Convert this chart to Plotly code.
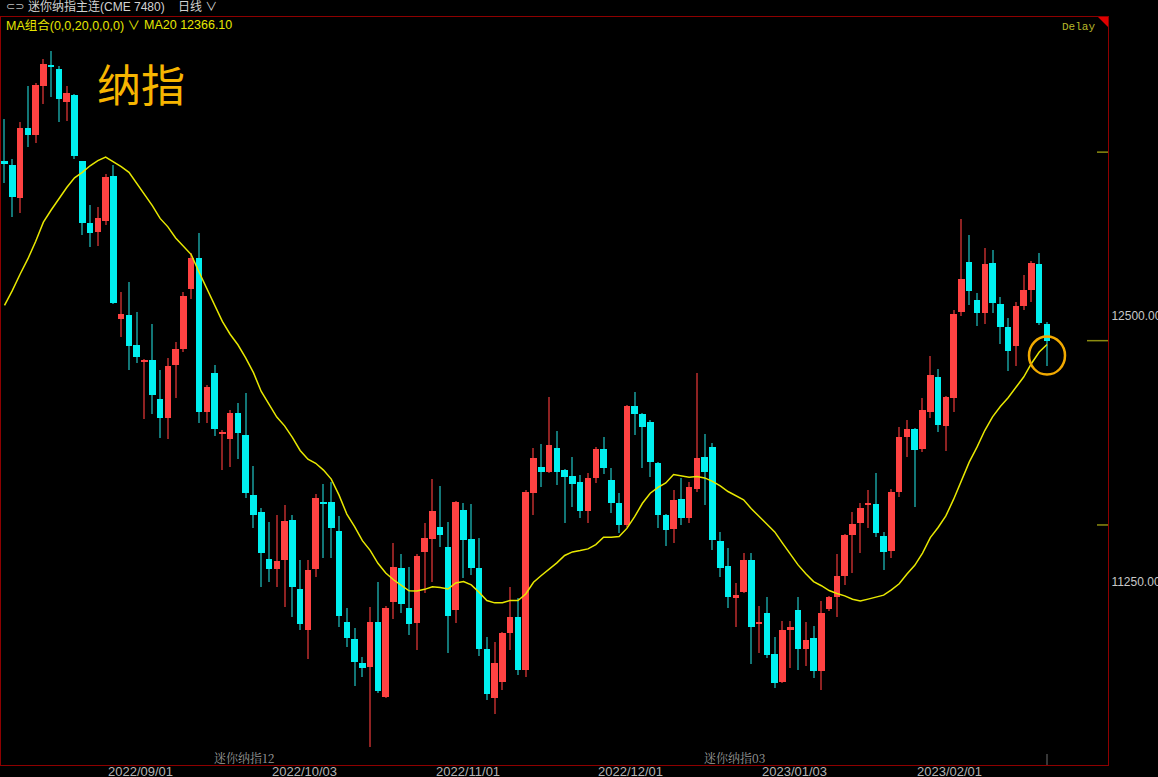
import plotly.graph_objects as go

# ---------------- data ----------------
opens = [13230, 13210, 13053, 13385, 13350, 13579, 13679, 13660, 13507, 13538,
         13230, 12937, 12894, 12947, 13159, 12484, 12505, 12366, 12285, 12295,
         12109, 12020, 12269, 12344, 12625, 12772, 12048, 12232, 11949, 11922,
         12044, 11942, 11657, 11581, 11358, 11311, 11353, 11541, 11215, 11024,
         11309, 11626, 11626, 11491, 11060, 10982, 10868, 10852, 11060, 10711,
         11157, 11317, 11129, 11056, 11389, 11450, 11510, 11416, 11118, 11589,
         11452, 11317, 10933, 10706, 10780, 11008, 11084, 10836, 11669, 11789,
         11765, 11881, 11776, 11748, 11720, 11585, 11737, 11875, 11729, 11622,
         11518, 12077, 12038, 12000, 11810, 11563, 11497, 11638, 11549, 11687,
         11837, 11883, 11444, 11325, 11178, 11201, 11353, 11056, 11103, 10910,
         10778, 11029, 11118, 10935, 10985, 10831, 11121, 11180, 11278, 11471,
         11526, 11610, 11616, 11466, 11397, 11671, 11931, 11967, 11873, 12049,
         12212, 11983, 12113, 12520, 12752, 12575, 12512, 12748, 12556, 12450,
         12359, 12547, 12621, 12743, 12464]
highs = [13424, 13236, 13410, 13579, 13593, 13710, 13746, 13675, 13579, 13542,
         13230, 13022, 13014, 13165, 13210, 12611, 12660, 12517, 12298, 12462,
         12244, 12303, 12380, 12615, 12794, 12892, 12175, 12269, 11962, 12060,
         12093, 12140, 11793, 11596, 11533, 11565, 11612, 11565, 11353, 11353,
         11662, 11709, 11721, 11560, 11129, 11032, 10899, 11134, 11251, 11135,
         11432, 11380, 11322, 11380, 11528, 11732, 11701, 11533, 11630, 11620,
         11616, 11455, 10993, 10969, 11013, 11225, 11173, 11680, 11878, 11898,
         12118, 11961, 11780, 11839, 11753, 11760, 11886, 11930, 11784, 11667,
         12082, 12144, 12042, 12011, 11815, 11568, 11682, 11737, 11721, 12230,
         11945, 11901, 11486, 11408, 11243, 11384, 11384, 11138, 11178, 10993,
         11068, 11068, 11180, 11063, 11043, 11160, 11185, 11381, 11475, 11580,
         11620, 11682, 11760, 11486, 11685, 11980, 12011, 11972, 12113, 12312,
         12249, 12125, 12528, 12956, 12880, 12609, 12821, 12810, 12591, 12489,
         12567, 12692, 12758, 12797, 12470]
lows = [13124, 12966, 12986, 13292, 13312, 13498, 13528, 13410, 13414, 13236,
        12880, 12825, 12829, 12927, 12555, 12403, 12244, 12277, 12018, 12040,
        11928, 11922, 12113, 12330, 12578, 11999, 11999, 11938, 11775, 11790,
        11828, 11647, 11504, 11225, 11251, 11228, 11134, 11087, 11024, 10886,
        11275, 11361, 11361, 11040, 10946, 10761, 10805, 10476, 10727, 10705,
        11074, 11103, 11001, 10930, 11197, 11251, 11416, 10915, 11058, 11267,
        11283, 10902, 10695, 10632, 10742, 10930, 10812, 10805, 11565, 11698,
        11760, 11706, 11526, 11604, 11549, 11526, 11716, 11757, 11573, 11479,
        11510, 11940, 11784, 11745, 11502, 11419, 11432, 11518, 11526, 11674,
        11611, 11400, 11275, 11126, 11040, 11197, 10864, 10915, 10891, 10750,
        10775, 10844, 10836, 10855, 10797, 10742, 11115, 11087, 11236, 11291,
        11385, 11502, 11463, 11306, 11361, 11650, 11836, 11604, 11862, 12019,
        11956, 11867, 12050, 12500, 12551, 12453, 12462, 12512, 12368, 12243,
        12266, 12528, 12567, 12457, 12266]
closes = [13216, 13059, 13385, 13350, 13585, 13685, 13671, 13518, 13546, 13253,
          12937, 12892, 12961, 13151, 12562, 12509, 12360, 12305, 12293, 12130,
          12020, 12264, 12346, 12594, 12772, 12048, 12167, 11971, 11957, 12044,
          11950, 11667, 11565, 11386, 11311, 11350, 11536, 11228, 11052, 11306,
          11643, 11620, 11502, 11090, 10988, 10872, 10847, 11060, 10737, 11129,
          11322, 11145, 11052, 11373, 11456, 11583, 11471, 11090, 11624, 11447,
          11317, 10936, 10722, 10868, 11008, 11084, 10836, 11674, 11834, 11765,
          11894, 11765, 11745, 11710, 11585, 11737, 11875, 11784, 11620, 11518,
          12077, 12038, 11980, 11812, 11563, 11494, 11635, 11549, 11698, 11831,
          11765, 11447, 11317, 11180, 11187, 11352, 11040, 11062, 10905, 10776,
          11024, 11037, 10933, 10977, 10831, 11103, 11180, 11278, 11471, 11521,
          11597, 11620, 11479, 11391, 11674, 11932, 11967, 11870, 12058, 12222,
          11986, 12119, 12508, 12672, 12617, 12512, 12743, 12560, 12450, 12337,
          12547, 12622, 12750, 12465, 12384]
# MA20 for the first 19 bars (its earlier inputs lie before the visible window)
ma20_head = [12550, 12619, 12696, 12768, 12850, 12941, 12998, 13053, 13104, 13149,
             13175, 13206, 13230, 13247, 13226, 13202, 13175, 13124, 13074]

tick_idx = [17, 38, 59, 80, 101, 121]
tick_labels = ["2022/09/01", "2022/10/03", "2022/11/01",
               "2022/12/01", "2023/01/03", "2023/02/01"]
y_ticks = [11250, 12500]
contract_labels = ["迷你纳指12", "迷你纳指03"]
contract_idx = [27, 90]
scale_marks = [13270, 11518]

# ---------------- derived ----------------
n = len(closes)
idx = list(range(n))
ma20 = ma20_head + [sum(closes[i - 19:i + 1]) / 20 for i in range(19, n)]
up = [c >= o for o, c in zip(opens, closes)]

UP_BODY, DN_BODY = "#FF4242", "#00F0F0"
UP_WICK, DN_WICK = "#8E2222", "#127676"
FRAME = "#8E0000"
MIN_BODY = 8

body_base, body_h = [], []
for o, c in zip(opens, closes):
    h = abs(c - o)
    if h < MIN_BODY:
        body_base.append(min(o, c) - (MIN_BODY - h) / 2)
        body_h.append(MIN_BODY)
    else:
        body_base.append(min(o, c))
        body_h.append(h)

fig = go.Figure()
# wicks (as thin bars so the bodies can sit on top)
fig.add_trace(go.Bar(
    x=idx, base=lows, y=[h - l for h, l in zip(highs, lows)], width=0.14,
    marker=dict(color=[UP_WICK if u else DN_WICK for u in up], line=dict(width=0)),
    hoverinfo="skip"))
# bodies
fig.add_trace(go.Bar(
    x=idx, base=body_base, y=body_h, width=0.84,
    marker=dict(color=[UP_BODY if u else DN_BODY for u in up], line=dict(width=0)),
    hoverinfo="skip"))
# MA20
fig.add_trace(go.Scatter(x=idx, y=ma20, mode="lines",
                         line=dict(color="#E8E800", width=1.5), hoverinfo="skip"))

# plot area: x 1..1108 px, y 17..765 px
L_PX, R_PX, T_PX, B_PX = 1, 1108, 17, 765


def px_x(px):
    return (px - L_PX) / (R_PX - L_PX)


def px_y(py):
    return (B_PX - py) / (B_PX - T_PX)


fig.update_layout(
    width=1158, height=777,
    margin=dict(l=L_PX, r=1158 - R_PX, t=T_PX, b=777 - B_PX, pad=0, autoexpand=False),
    paper_bgcolor="black", plot_bgcolor="black",
    showlegend=False, barmode="overlay", bargap=0,
    font=dict(family="Liberation Sans, Noto Sans CJK SC, sans-serif"),
)
fig.update_xaxes(range=[-0.45, 141.84], showgrid=False, zeroline=False,
                 showticklabels=False, ticks="", showline=True, automargin=False,
                 linecolor=FRAME, linewidth=1, mirror=True, fixedrange=True)
fig.update_yaxes(range=[10390, 13905], side="right", showgrid=False, zeroline=False,
                 tickvals=y_ticks, ticktext=[f"{v:.2f}" for v in y_ticks], ticks="",
                 tickfont=dict(color="#C8C8C8", size=12, family="Liberation Sans"),
                 automargin=False,
                 showline=True, linecolor=FRAME, linewidth=1, mirror=True, fixedrange=True)

ann = []
# date labels
for i, t in zip(tick_idx, tick_labels):
    ann.append(dict(x=i, y=0, xref="x", yref="paper", text=t, showarrow=False,
                    xanchor="center", yanchor="middle", yshift=-6, xshift=4,
                    font=dict(color="#B4B4B4", size=13, family="Liberation Sans")))
# contract labels
for i, t in zip(contract_idx, contract_labels):
    ann.append(dict(x=i, y=px_y(757), xref="x", yref="paper", text=t, showarrow=False,
                    xanchor="left", yanchor="middle", xshift=-3,
                    font=dict(color="#9A9A9A", size=12,
                              family="Noto Serif CJK SC, Noto Sans CJK SC")))
# header line 1
ann.append(dict(x=px_x(4), y=px_y(7), xref="paper", yref="paper", text="⊂⊃",
                showarrow=False, xanchor="left", yanchor="middle",
                font=dict(color="#BEBEBE", size=11, family="DejaVu Sans")))
ann.append(dict(x=px_x(26), y=px_y(7), xref="paper", yref="paper",
                text="迷你纳指主连(CME 7480)", showarrow=False,
                xanchor="left", yanchor="middle",
                font=dict(color="#D2D2D2", size=12,
                          family="Liberation Sans, Noto Sans CJK SC")))
ann.append(dict(x=px_x(176), y=px_y(7), xref="paper", yref="paper",
                text="日线 ∨", showarrow=False, xanchor="left", yanchor="middle",
                font=dict(color="#D2D2D2", size=12,
                          family="Liberation Sans, Noto Sans CJK SC")))
# header line 2
ann.append(dict(x=px_x(4), y=px_y(25), xref="paper", yref="paper",
                text="MA组合(0,0,20,0,0,0) ∨", showarrow=False,
                xanchor="left", yanchor="middle",
                font=dict(color="#E6E600", size=12.5,
                          family="Liberation Sans, Noto Sans CJK SC")))
ann.append(dict(x=px_x(142), y=px_y(25), xref="paper", yref="paper",
                text="MA20 12366.10", showarrow=False,
                xanchor="left", yanchor="middle",
                font=dict(color="#E6E600", size=12.5, family="Liberation Sans")))
# Delay
ann.append(dict(x=px_x(1097), y=px_y(27), xref="paper", yref="paper",
                text="Delay", showarrow=False, xanchor="right", yanchor="middle",
                font=dict(color="#B8B82A", size=11, family="Liberation Mono")))
# big title
ann.append(dict(x=px_x(141), y=px_y(83), xref="paper", yref="paper",
                text="纳指", showarrow=False, xanchor="center", yanchor="middle",
                font=dict(color="#F7B500", size=44, family="Noto Sans CJK SC")))
fig.update_layout(annotations=ann)

shapes = []
# red corner triangle
shapes.append(dict(type="path", xref="paper", yref="paper",
                   path=f"M {px_x(1098)},{px_y(17)} L {px_x(1108)},{px_y(17)} "
                        f"L {px_x(1108)},{px_y(27)} Z",
                   fillcolor="#E00000", line=dict(width=0)))
# scale marks on the right edge
for v in scale_marks:
    shapes.append(dict(type="line", xref="paper", yref="y", xsizemode="pixel",
                       xanchor=1, x0=-11, x1=0, y0=v, y1=v,
                       line=dict(color="#8C8C10", width=1.5)))
# last price mark
shapes.append(dict(type="line", xref="paper", yref="y", xsizemode="pixel",
                   xanchor=1, x0=-21, x1=0, y0=closes[-1], y1=closes[-1],
                   line=dict(color="#8C8C10", width=1.5)))
# highlight circle around the last bar
shapes.append(dict(type="circle", xref="x", yref="y", xsizemode="pixel",
                   ysizemode="pixel", xanchor=idx[-1], yanchor=12314,
                   x0=-18, x1=18, y0=-19, y1=19,
                   line=dict(color="#F2AA00", width=2.5)))
# cursor mark at the bottom of the last bar
shapes.append(dict(type="line", xref="x", yref="paper", ysizemode="pixel",
                   yanchor=0, x0=idx[-1], x1=idx[-1], y0=0, y1=11,
                   line=dict(color="#6E6E6E", width=1)))
fig.update_layout(shapes=shapes)

# remove the page's default body margin so the figure sits at the window's corner
page_css = ("document.body.style.margin='0';document.body.style.padding='0';"
            "document.body.style.background='black';"
            "document.body.style.overflow='hidden';")
fig.write_html("out.html", post_script=page_css,
               config={"displayModeBar": False, "staticPlot": False})
